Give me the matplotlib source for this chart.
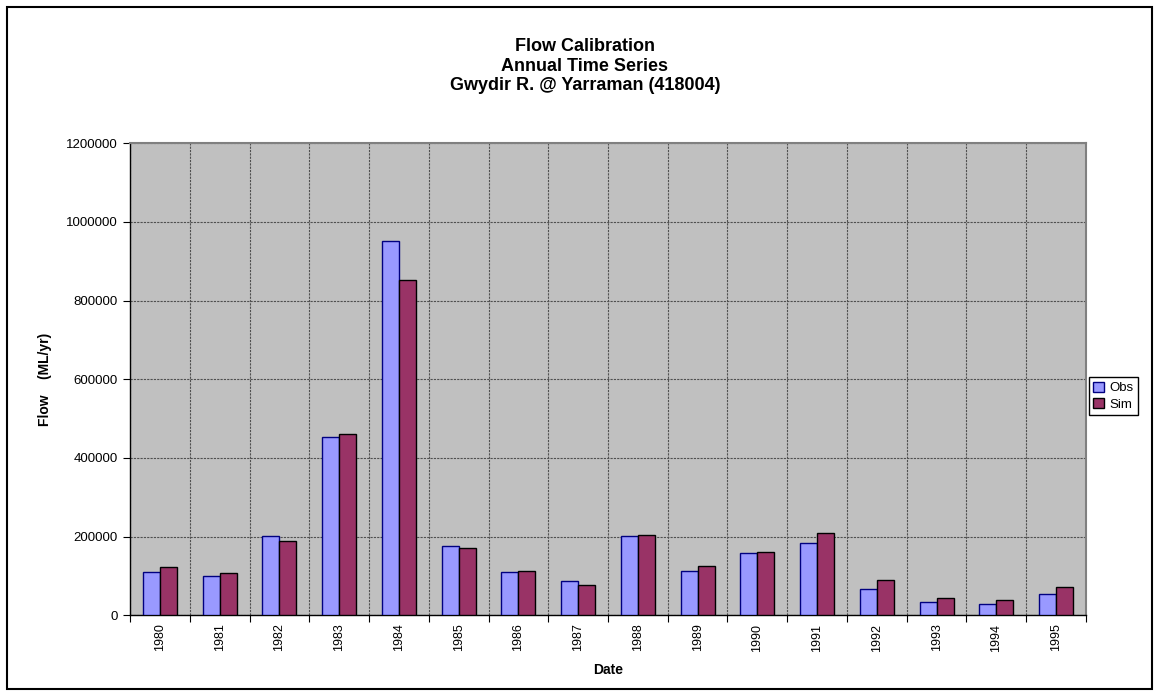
import numpy as np
import matplotlib
matplotlib.use('Agg')
from matplotlib import pyplot as plt
from matplotlib.patches import Rectangle

years = ['1980', '1981', '1982', '1983', '1984', '1985', '1986', '1987',
         '1988', '1989', '1990', '1991', '1992', '1993', '1994', '1995']
obs = [110000, 100500, 202000, 454000, 952000, 176000, 109500, 87000,
       201500, 112500, 157500, 184500, 67000, 33000, 29500, 55000]
sim = [123500, 108000, 188000, 460000, 853000, 172000, 112500, 78000,
       204000, 124500, 161500, 208500, 89000, 44000, 39500, 71000]

plt.rcParams['font.family'] = ['Liberation Sans', 'DejaVu Sans']

fig = plt.figure(figsize=(11.58, 6.95), dpi=100)
ax = fig.add_axes([0.1123, 0.1147, 0.8255, 0.6791])
ax.set_facecolor('#C0C0C0')

x = np.arange(len(years))
w = 0.286
ax.bar(x - w / 2, obs, w, color='#9999FF', edgecolor='#000080', linewidth=1, label='Obs', zorder=3)
ax.bar(x + w / 2, sim, w, color='#993366', edgecolor='black', linewidth=1, label='Sim', zorder=3)

ax.set_xlim(-0.5, len(years) - 0.5)
ax.set_ylim(0, 1200000)
ax.set_yticks(np.arange(0, 1200001, 200000))
ax.set_yticklabels([str(v) for v in range(0, 1200001, 200000)], fontsize=9.5)

# boundaries as major ticks, labels on minor ticks at the centres
ax.set_xticks(np.arange(-0.5, len(years), 1))
ax.set_xticklabels([])
ax.set_xticks(x, minor=True)
ax.set_xticklabels(years, minor=True, rotation=90, fontsize=9)
ax.tick_params(axis='x', which='major', length=5, direction='out', color='black')
ax.tick_params(axis='x', which='minor', length=0, pad=6)
ax.tick_params(axis='y', length=5, direction='out', color='black', pad=4)

ax.grid(True, which='major', color='#505050', linestyle=(0, (2, 1)), linewidth=0.8, zorder=0)
ax.set_axisbelow(True)

for s in ['top', 'right']:
    ax.spines[s].set_color('#808080')
    ax.spines[s].set_linewidth(1.5)
for s in ['left', 'bottom']:
    ax.spines[s].set_color('black')
    ax.spines[s].set_linewidth(1)

ax.set_xlabel('Date', fontsize=10, fontweight='bold', labelpad=8)
ax.set_ylabel('Flow    (ML/yr)', fontsize=10, fontweight='bold', labelpad=10)

fig.text(0.505, 0.905, 'Flow Calibration\nAnnual Time Series\nGwydir R. @ Yarraman (418004)',
         ha='center', va='center', fontsize=13, fontweight='bold', linespacing=1.2)

fig.legend(loc='center left', bbox_to_anchor=(0.940, 0.43), fontsize=9.5,
           frameon=True, fancybox=False, edgecolor='black', framealpha=1,
           handlelength=0.8, handleheight=0.8, handletextpad=0.4,
           borderpad=0.35, labelspacing=0.3, borderaxespad=0)

fig.patches.append(Rectangle((0.006, 0.009), 0.989, 0.981, transform=fig.transFigure,
                             fill=False, edgecolor='black', linewidth=1.5))

fig.savefig('out.png', dpi=100)
